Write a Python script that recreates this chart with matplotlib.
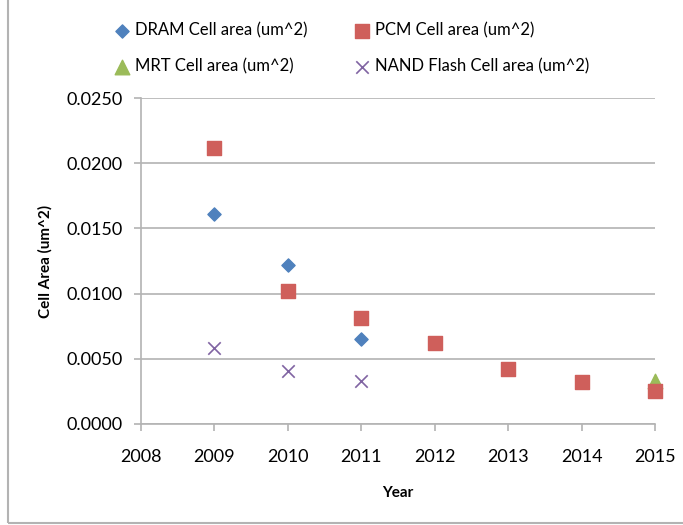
import matplotlib.pyplot as plt
from matplotlib.patches import Rectangle

plt.rcParams['font.family'] = ['Lato', 'DejaVu Sans']

# cell area (um^2) by year
dram_years = [2009, 2010, 2011]
dram_area = [0.0161, 0.0122, 0.0065]
pcm_years = [2009, 2010, 2011, 2012, 2013, 2014, 2015]
pcm_area = [0.0212, 0.0102, 0.0081, 0.0062, 0.0042, 0.0032, 0.0025]
mrt_years = [2015]
mrt_area = [0.0033]
nand_years = [2009, 2010, 2011]
nand_area = [0.0058, 0.0041, 0.0033]

fig = plt.figure(figsize=(6.83, 5.25), dpi=100)
ax = fig.add_axes([0.2064, 0.1924, 0.7526, 0.6209])

h_dram = ax.scatter(dram_years, dram_area, marker='D', s=45, color='#4F81BD', zorder=3,
                    clip_on=False, label='DRAM Cell area (um^2)')
h_pcm = ax.scatter(pcm_years, pcm_area, marker='s', s=110, color='#CF5F5B', zorder=3,
                   clip_on=False, label='PCM Cell area (um^2)')
h_mrt = ax.scatter(mrt_years, mrt_area, marker='^', s=110, color='#9BBB59', zorder=2,
                   clip_on=False, label='MRT Cell area (um^2)')
h_nand = ax.scatter(nand_years, nand_area, marker='x', s=80, color='#8064A2', linewidths=1.2,
                    zorder=3, clip_on=False, label='NAND Flash Cell area (um^2)')

ax.set_xlim(2008, 2015)
ax.set_ylim(0, 0.025)
ax.set_xticks(range(2008, 2016))
ax.set_yticks([0, 0.005, 0.01, 0.015, 0.02, 0.025])
ax.set_yticklabels([f'{v:.4f}' for v in ax.get_yticks()])
ax.tick_params(labelsize=13, colors='#b3b3b3', labelcolor='black', length=5, width=1.2)
ax.tick_params(axis='y', pad=8)
ax.tick_params(axis='x', pad=13)

ax.grid(axis='y', color='#b3b3b3', linewidth=1.2)
ax.set_axisbelow(True)
for side in ['top', 'right']:
    ax.spines[side].set_visible(False)
for side in ['left', 'bottom']:
    ax.spines[side].set_color('#b3b3b3')
    ax.spines[side].set_linewidth(1.2)

ax.set_xlabel('Year', fontsize=11, fontweight='bold', labelpad=15)
ax.set_ylabel('Cell Area (um^2)', fontsize=11, fontweight='bold', labelpad=10)

# column-major order so the rows read DRAM/PCM then MRT/NAND
fig.legend(handles=[h_dram, h_mrt, h_pcm, h_nand], loc='upper left',
           bbox_to_anchor=(109 / 683, 1 - 15.6 / 525), borderaxespad=0, ncol=2,
           frameon=False, fontsize=12, handlelength=0.8, handletextpad=0.35,
           columnspacing=2.9, labelspacing=1.18, scatterpoints=1, markerscale=1.0)

# outer chart border
fig.patches.append(Rectangle((8 / 683, 2 / 525), 1.2, 1.2, transform=fig.transFigure,
                             fill=False, edgecolor='#b3b3b3', linewidth=1.5))

fig.savefig('out.png', dpi=100)
